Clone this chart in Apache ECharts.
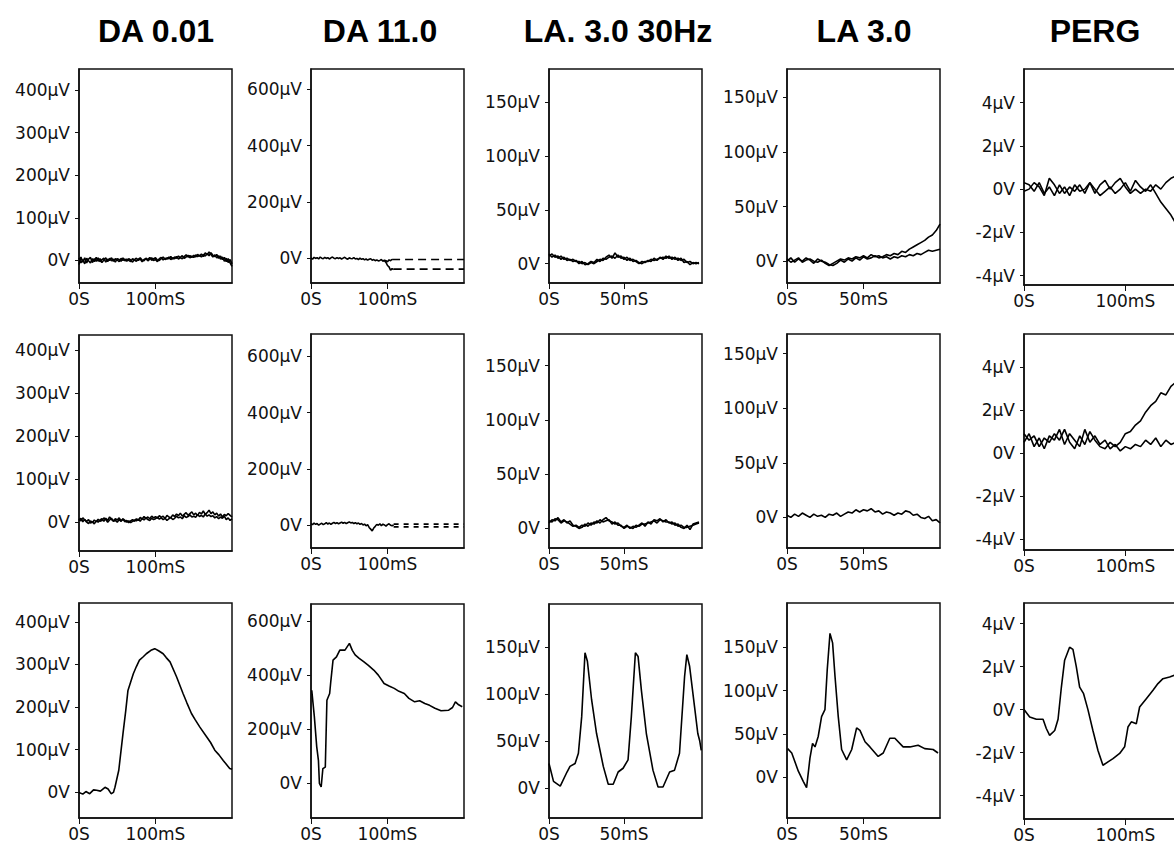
<!DOCTYPE html>
<html lang="en">
<head>
    <meta charset="UTF-8">
    <title>ERG</title>
    <style>
        html, body {
            margin: 0;
            padding: 0;
            background: #fff;
        }
        #chart {
            width: 1174px;
            height: 846px;
        }
    </style>
    <script src="https://cdn.jsdelivr.net/npm/echarts@6/dist/echarts.min.js"></script>
</head>
<body>
<div id="chart"></div>
<script>
    var titles = ['DA 0.01', 'DA 11.0', 'LA. 3.0 30Hz', 'LA 3.0', 'PERG'];

    // tick values
    var yTicksDA001 = [0, 100, 200, 300, 400];
    var yTicksDA11 = [0, 200, 400, 600];
    var yTicksLA = [0, 50, 100, 150];
    var yTicksPERG = [-4, -2, 0, 2, 4];
    var xTicks200 = [0, 100];
    var xTicks100 = [0, 50];

    // row 1, sampled every 2.5 ms (DA 0.01)
    var da001Top = [
        -10, 8, -4, 6, -6, 3, 7, -5, 4, -2,
        6, -3, 2, 5, -4, 3, 0, 6, -2, 4,
        1, -3, 5, 0, 3, -2, 4, 1, -4, 2,
        5, 0, 3, -3, 2, 4, -1, 3, 6, 0,
        2, -3, 4, 7, 1, 5, 3, 8, 2, 6,
        4, 9, 3, 7, 11, 5, 8, 12, 6, 10,
        7, 13, 9, 12, 8, 14, 10, 16, 11, 18,
        12, 9, 14, 5, 10, 2, 7, -3, 4, -6,
        -14
    ];
    var da001TopB = [
        6, -6, 2, -8, 5, -1, -6, 4, -3, 7,
        -2, 4, -5, 1, 6, -3, 5, -1, 3, -4,
        4, 2, -2, 6, -1, 3, 0, -3, 4, 1,
        -2, 3, 6, 1, -1, 5, 2, 7, 0, 4,
        6, 1, 0, 4, 8, 2, 6, 4, 9, 3,
        8, 5, 10, 6, 4, 9, 13, 8, 11, 7,
        12, 8, 14, 10, 15, 9, 18, 13, 20, 14,
        8, 13, 6, 11, 3, 8, -2, 5, -5, 2,
        -8
    ];
    // DA 11.0 row 1, every 2 ms up to 106 ms
    var da11Top = [
        2, -3, 4, 0, 3, -2, 5, 1, -1, 4,
        0, 3, -2, 2, 5, 1, -1, 3, 0, 2,
        -2, 1, 4, 0, -3, 2, 0, -1, 3, -2,
        0, -4, 1, -3, -1, -5, -2, -6, -3, -1,
        -6, -4, -8, -5, -9, -7, -4, -10, -6, -8,
        -12, -5, -8, -3
    ];
    var da11TopB = [[96, -8], [98, -14], [100, -25], [102, -30], [104, -42], [106, -36], [108, -40]];
    var da11TopDashA = [[106, -4], [200, -4]];
    var da11TopDashB = [[108, -38], [200, -38]];
    // LA 30Hz row 1, every 2 ms
    var la30Top = [
        9, 6, 8, 5, 7, 4, 5, 3, 4, 2,
        2, 0, 1, -1, 1, 0, 2, 4, 3, 6,
        8, 5, 10, 6, 7, 4, 6, 3, 4, 2,
        0, 2, 1, 3, 2, 5, 3, 6, 4, 7,
        5, 6, 4, 5, 3, 4, 1, 2, 0, 1,
        0
    ];
    var la30TopB = [
        7, 9, 6, 7, 4, 6, 3, 4, 2, 3,
        0, 2, -1, 0, 2, 1, 4, 2, 5, 4,
        6, 7, 5, 8, 5, 6, 3, 5, 2, 3,
        1, 0, 2, 2, 4, 3, 4, 5, 6, 5,
        7, 4, 6, 3, 5, 1, 2, -1, 1, 0,
        1
    ];
    // LA 3.0 row 1, every 2.5 ms
    var la3TopA = [
        0, 3, -1, 2, 0, 3, 1, -2, 2, 0,
        -1, -3, -4, -2, 1, -1, 2, 0, 3, 1,
        4, 2, 3, 5, 3, 4, 6, 5, 7, 6,
        9, 8, 11, 13, 15, 17, 19, 22, 24, 28,
        34
    ];
    var la3TopB = [
        2, -1, 1, 3, -1, 1, 2, 0, -1, 1,
        -2, -4, -2, 0, 2, 1, 3, 2, 4, 3,
        5, 3, 6, 4, 5, 3, 4, 2, 4, 3,
        5, 4, 6, 5, 7, 6, 8, 10, 9, 10,
        11
    ];
    // PERG row 1, every 5 ms
    var pergTopA = [0.3, 0.2, -0.1, 0.3, -0.2, 0.1, -0.3, 0.2, -0.2, 0.1, -0.1, 0.2, -0.2, 0.3, 0.0, -0.3,
        -0.1, 0.1, -0.2, 0.0, 0.3, -0.1, 0.4, 0.1, -0.1, 0.2, -0.2, -0.6, -0.9, -1.2, -1.6];
    var pergTopB = [-0.1, 0.0, 0.3, 0.1, -0.3, 0.5, 0.2, -0.2, 0.1, -0.3, 0.2, -0.1, 0.0, 0.3, -0.2, 0.2,
        0.4, 0.0, 0.3, 0.5, 0.1, -0.2, 0.0, -0.2, 0.0, -0.1, 0.2, 0.0, 0.3, 0.5, 0.6];

    // row 2
    var da001MidA = [
        8, 3, 10, 5, 2, 6, -2, 1, -4, 3,
        0, 5, 8, 2, 9, 4, 12, 6, 3, 8,
        5, 10, 3, 7, 1, 4, -1, 3, 6, 2,
        8, 4, 11, 7, 13, 9, 12, 8, 14, 10,
        13, 9, 15, 11, 14, 8, 16, 12, 10, 17,
        13, 19, 15, 21, 14, 18, 22, 16, 20, 24,
        17, 21, 15, 23, 19, 26, 18, 22, 28, 20,
        24, 17, 21, 14, 19, 12, 18, 15, 20, 16,
        12
    ];
    var da001MidB = [
        4, 9, 1, 6, 0, -3, 3, -1, 5, 1,
        7, 2, 4, 10, 6, 0, 5, 9, 2, 4,
        0, 6, 2, 8, 4, 0, 3, -1, 2, 5,
        3, 7, 2, 9, 5, 10, 6, 4, 9, 6,
        8, 12, 7, 10, 6, 9, 4, 8, 11, 6,
        9, 14, 10, 12, 8, 15, 11, 13, 17, 12,
        14, 11, 18, 13, 16, 12, 19, 14, 17, 13,
        15, 10, 13, 8, 12, 9, 14, 6, 10, 4,
        8
    ];
    var da11Mid = [
        5, 2, 8, 3, 6, 0, 4, 7, 2, 5,
        9, 4, 8, 3, 7, 10, 6, 9, 5, 8,
        11, 7, 10, 6, 9, 12, 8, 10, 6, 9,
        5, 8, 3, 6, 1, 4, -2, 2, -8, -14,
        -20, -10, -4, 3, 0, 5, -2, 4, 1, -3,
        2, 5, 0, -2, 1
    ];
    var da11MidDashA = [[108, 4], [200, 4]];
    var da11MidDashB = [[108, -6], [200, -6]];
    var la30Mid = [
        5, 8, 7, 10, 6, 8, 5, 7, 3, 2,
        0, 1, 4, 2, 5, 4, 7, 5, 8, 10,
        7, 6, 4, 5, 2, 1, 3, 0, 2, 1,
        3, 5, 2, 6, 4, 8, 7, 9, 6, 8,
        5, 6, 3, 4, 1, 0, 3, -1, 4, 5,
        6
    ];
    var la30MidB = [
        7, 6, 9, 8, 5, 7, 6, 4, 2, 3,
        1, 3, 2, 5, 3, 6, 5, 8, 6, 7,
        8, 4, 6, 3, 3, 0, 2, 1, 0, 3,
        2, 4, 4, 5, 6, 7, 5, 8, 7, 6,
        6, 4, 5, 2, 3, 1, 1, 2, 3, 4,
        5
    ];
    var la3Mid = [
        2, 0, 3, 1, 4, 2, 0, 3, 1, 2,
        0, 3, 2, 4, 1, 3, 5, 4, 7, 5,
        7, 6, 8, 5, 6, 3, 5, 4, 2, 4,
        3, 6, 5, 2, 3, 0, -1, 1, -3, -2,
        -5
    ];
    var pergMidA = [0.9, 0.6, 0.8, 0.3, 0.7, 0.5, 0.9, 0.6, 1.1, 0.5, 0.2, 0.8, 0.4, 1.0, 0.6, 0.3,
        0.2, 0.5, 0.3, 0.5, 0.9, 1.0, 1.3, 1.5, 1.9, 2.2, 2.4, 2.8, 2.7, 3.1, 3.3];
    var pergMidB = [0.5, 0.9, 0.3, 0.7, 0.2, 0.8, 0.6, 1.1, 0.4, 0.9, 0.6, 0.3, 1.1, 0.5, 0.8, 0.4,
        0.6, 0.2, 0.4, 0.1, 0.3, 0.2, 0.4, 0.3, 0.6, 0.4, 0.7, 0.3, 0.6, 0.4, 0.5];

    // row 3: responses [ms, value]
    var da001Resp = [[0, 0], [5, -4], [9, 2], [14, -3], [19, 6], [23, 5], [28, 3], [34, 12], [38, 8], [42, -3],
        [45, 0], [47, 12], [52, 52], [57.5, 138], [61, 190], [64, 239], [71, 278], [75, 295], [79, 310],
        [84, 318], [88, 325], [94, 333], [99, 337], [104, 332], [110, 325], [114, 316], [119, 306],
        [127.5, 271], [136, 232], [141, 210], [147, 185], [152, 170], [158, 153], [167, 130],
        [172, 117], [177.5, 99], [183, 88], [188.5, 75], [197, 56], [200, 54]];
    var da11Resp = [[1, 344], [2.5, 300], [4.4, 245], [7.5, 134], [9.7, 84], [11, -2], [13.3, -15],
        [15.5, 53], [18.7, 59], [20.8, 307], [24.4, 332], [26, 380], [28.8, 456], [33.3, 468],
        [37.7, 493], [44.4, 493], [50.2, 518], [54, 492], [57.7, 475], [63, 462], [68.8, 450],
        [75, 436], [82, 419], [88, 400], [95.5, 369], [102, 360], [108.8, 351], [115, 340],
        [122, 332], [128, 314], [135.5, 301], [142, 305], [148.8, 295], [155, 288], [162, 277],
        [170, 268], [180, 270], [185, 280], [188.8, 301], [193, 290], [197.7, 283]];
    var la30Resp = [[0, 26], [3, 7], [7.5, 2], [12, 17], [14, 23], [17.4, 26], [19.6, 37], [21.8, 76],
        [24, 144], [25.6, 135], [28.4, 94], [31.7, 58], [36.2, 23], [39.5, 4], [42.8, 4], [46.1, 17],
        [49.4, 21], [52.7, 30], [54.9, 76], [57.6, 144], [59.4, 140], [61.6, 104], [64.9, 58],
        [69.3, 19], [72.7, 1], [76, 1], [80.4, 17], [83.7, 19], [87, 37], [90.4, 119], [91.9, 142],
        [93.7, 130], [97, 87], [99.2, 58], [100.5, 50], [101.5, 40]];
    var la3Resp = [[0.4, 33], [3.1, 28], [7.4, 7], [10.7, -5], [12.8, -12], [15, 22], [16.7, 39],
        [18.3, 35], [20.4, 47], [22.6, 70], [24.8, 78], [26.3, 124], [28.1, 166], [29.8, 155],
        [31.4, 116], [33.5, 70], [35.7, 32], [39, 20], [42.3, 32], [45.5, 57], [47.7, 54], [51, 41],
        [54.2, 35], [59.6, 24], [62.9, 28], [67.2, 45], [70.5, 45], [75.9, 35], [80.3, 35],
        [85.7, 37], [90, 33], [95.5, 32], [98.7, 28]];
    var pergResp = [[0, 0], [5.6, -0.34], [12.2, -0.45], [18.8, -0.45], [22, -0.88], [25.3, -1.2],
        [30.3, -0.97], [33.6, -0.45], [36.9, 1.05], [40.1, 2.3], [45, 2.9], [48.3, 2.8], [51.6, 2.0],
        [54.9, 1.05], [58.8, 0.74], [63.1, 0], [68, -0.97], [73, -1.9], [77.9, -2.59], [82.9, -2.43],
        [87.8, -2.28], [94.4, -2.04], [99.3, -1.73], [102.6, -0.81], [105.9, -0.57], [110.8, -0.66],
        [114.1, 0.12], [120.7, 0.51], [127.3, 0.9], [132.2, 1.21], [137.1, 1.44], [143.7, 1.52],
        [148.6, 1.6]];

    function sampled(values, step) {
        return values.map(function (v, i) { return [i * step, v]; });
    }
    function solid(d) { return {data: d}; }
    function dashed(d, pattern) { return {data: d, dash: pattern}; }

    var panels = [
        // row 1
        {box: [79, 69, 153, 214], x: [0, 200], y: [-53, 449], xt: xTicks200, yt: yTicksDA001,
            lines: [solid(sampled(da001Top, 2.5)), solid(sampled(da001TopB, 2.5))]},
        {box: [311, 69, 153, 214], x: [0, 200], y: [-87, 671], xt: xTicks200, yt: yTicksDA11,
            lines: [solid(sampled(da11Top, 2)), solid(da11TopB), dashed(da11TopDashA, [8, 5]), dashed(da11TopDashB, [8, 5])]},
        {box: [549, 69, 153, 214], x: [0, 102], y: [-18, 181], xt: xTicks100, yt: yTicksLA,
            lines: [solid(sampled(la30Top, 2)), solid(sampled(la30TopB, 2))]},
        {box: [787, 69, 153, 214], x: [0, 100], y: [-20, 176], xt: xTicks100, yt: yTicksLA,
            lines: [solid(sampled(la3TopA, 2.5)), solid(sampled(la3TopB, 2.5))]},
        {box: [1024, 69, 152, 216], x: [0, 150], y: [-4.43, 5.55], xt: xTicks200, yt: yTicksPERG,
            lines: [solid(sampled(pergTopA, 5)), solid(sampled(pergTopB, 5))]},
        // row 2
        {box: [79, 335, 153, 216], x: [0, 200], y: [-67, 435], xt: xTicks200, yt: yTicksDA001,
            lines: [solid(sampled(da001MidA, 2.5)), solid(sampled(da001MidB, 2.5))]},
        {box: [311, 334, 153, 214], x: [0, 200], y: [-81, 680], xt: xTicks200, yt: yTicksDA11,
            lines: [solid(sampled(da11Mid, 2)), dashed(da11MidDashA, [5, 5]), dashed(da11MidDashB, [5, 5])]},
        {box: [549, 334, 153, 214], x: [0, 102], y: [-18, 179], xt: xTicks100, yt: yTicksLA,
            lines: [solid(sampled(la30Mid, 2)), solid(sampled(la30MidB, 2))]},
        {box: [787, 334, 153, 214], x: [0, 100], y: [-28, 168], xt: xTicks100, yt: yTicksLA,
            lines: [solid(sampled(la3Mid, 2.5))]},
        {box: [1024, 334, 152, 216], x: [0, 150], y: [-4.5, 5.53], xt: xTicks200, yt: yTicksPERG,
            lines: [solid(sampled(pergMidA, 5)), solid(sampled(pergMidB, 5))]},
        // row 3
        {box: [79, 603, 153, 215], x: [0, 200], y: [-60, 444], xt: xTicks200, yt: yTicksDA001,
            lines: [solid(da001Resp)]},
        {box: [311, 604, 153, 214], x: [0, 200], y: [-130, 664], xt: xTicks200, yt: yTicksDA11,
            lines: [solid(da11Resp)]},
        {box: [549, 604, 153, 214], x: [0, 102], y: [-32, 196], xt: xTicks100, yt: yTicksLA,
            lines: [solid(la30Resp)]},
        {box: [787, 603, 153, 215], x: [0, 100], y: [-47, 201], xt: xTicks100, yt: yTicksLA,
            lines: [solid(la3Resp)]},
        {box: [1024, 603, 152, 216], x: [0, 150], y: [-5.09, 4.96], xt: xTicks200, yt: yTicksPERG,
            lines: [solid(pergResp)]}
    ];

    var titleX = [156, 380, 618, 864, 1095];
    var labelFont = {fontFamily: 'DejaVu Sans', fontSize: 17, color: '#111'};
    var ink = '#111';

    function yFmt(v) { return v === 0 ? '0V' : v + 'µV'; }
    function xFmt(v) { return v === 0 ? '0S' : v + 'mS'; }

    var grids = [], xAxes = [], yAxes = [], series = [];
    panels.forEach(function (p, i) {
        grids.push({
            left: p.box[0], top: p.box[1], width: p.box[2], height: p.box[3],
            show: true, borderColor: ink, borderWidth: 1.5,
            containLabel: false, outerBoundsMode: 'none'
        });
        xAxes.push({
            type: 'value', gridIndex: i, min: p.x[0], max: p.x[1],
            axisLine: {show: true, onZero: false, lineStyle: {color: ink, width: 1.5}},
            axisTick: {show: true, length: 6, customValues: p.xt, lineStyle: {color: ink}},
            axisLabel: Object.assign({customValues: p.xt, formatter: xFmt, margin: 7}, labelFont),
            splitLine: {show: false}
        });
        yAxes.push({
            type: 'value', gridIndex: i, min: p.y[0], max: p.y[1],
            axisLine: {show: true, onZero: false, lineStyle: {color: ink, width: 1.5}},
            axisTick: {show: true, length: 4, customValues: p.yt, lineStyle: {color: ink}},
            axisLabel: Object.assign({customValues: p.yt, formatter: yFmt, margin: 9}, labelFont),
            splitLine: {show: false}
        });
        p.lines.forEach(function (ln) {
            series.push({
                type: 'line', xAxisIndex: i, yAxisIndex: i,
                data: ln.data, symbol: 'none', silent: true,
                lineStyle: {color: '#000', width: 1.6, type: ln.dash || 'solid'}
            });
        });
    });

    var chart = echarts.init(document.getElementById('chart'), null, {renderer: 'svg'});
    chart.setOption({
        animation: false,
        backgroundColor: '#fff',
        graphic: titles.map(function (t, i) {
            return {
                type: 'text', x: titleX[i], y: 31,
                style: {
                    text: t, fill: '#000', align: 'center', verticalAlign: 'middle',
                    font: 'bold 32px "Liberation Sans", Arial, sans-serif'
                }
            };
        }),
        grid: grids,
        xAxis: xAxes,
        yAxis: yAxes,
        series: series
    });
</script>
</body>
</html>
